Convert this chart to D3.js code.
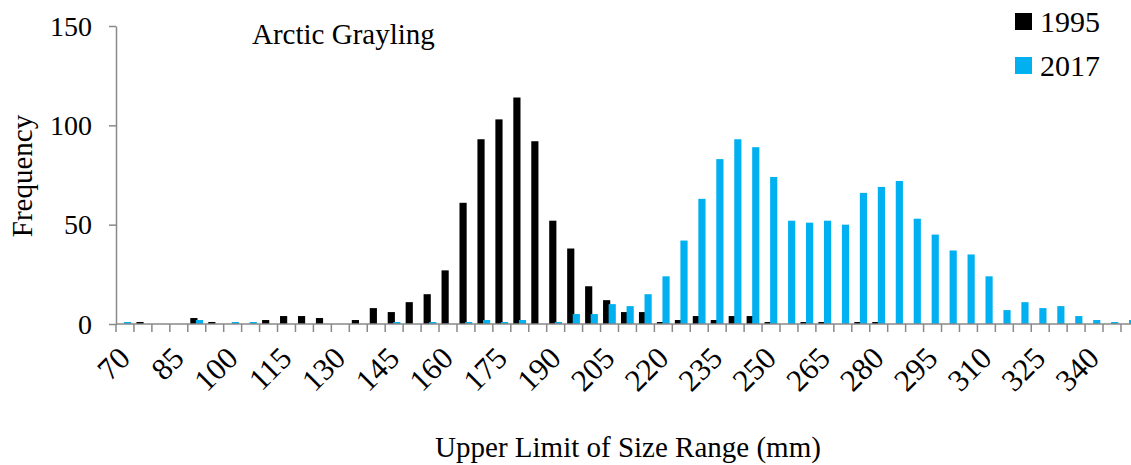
<!DOCTYPE html>
<html>
<head>
<meta charset="utf-8">
<script src="https://cdn.jsdelivr.net/npm/d3@7"></script>
<style>
  html, body { margin: 0; padding: 0; background: #fff; }
  svg { display: block; }
  text { font-family: "Liberation Serif", "Times New Roman", serif; fill: #000; }
</style>
</head>
<body>
<svg id="chart" width="1131" height="465"></svg>
<script>
// ---- Data ----
const categories = [70,75,80,85,90,95,100,105,110,115,120,125,130,135,140,145,150,155,160,165,170,175,180,185,190,195,200,205,210,215,220,225,230,235,240,245,250,255,260,265,270,275,280,285,290,295,300,305,310,315,320,325,330,335,340,345,350];
const values1995 = [0,1,0,0,3,1,0,0,2,4,4,3,0,2,8,6,11,15,27,61,93,103,114,92,52,38,19,12,6,6,1,2,4,2,4,4,1,0,1,1,0,1,1,0,0,0,0,0,0,0,0,0,0,0,0,0,0];
const values2017 = [1,0,0,0,2,0,1,1,0,0,0,0,0,0,0,1,0,1,0,1,2,1,2,0,1,5,5,10,9,15,24,42,63,83,93,89,74,52,51,52,50,66,69,72,53,45,37,35,24,7,11,8,9,4,2,1,2];
const tickLabels = [70,85,100,115,130,145,160,175,190,205,220,235,250,265,280,295,310,325,340];
const yTicks = [0,50,100,150];
const seriesNames = ["1995","2017"];
const colors = ["#000000","#00B0F0"];

// ---- Layout ----
const svg = d3.select("#chart");
const plotLeft = 116, plotTop = 26, plotBottom = 324;
const step = 17.946;
const x = d3.scaleBand().domain(categories).range([plotLeft, plotLeft + step * categories.length]).padding(0);
const y = d3.scaleLinear().domain([0,150]).range([plotBottom, plotTop]);
const bw = x.bandwidth();
const axisColor = "#898989";

// Bars
const g = svg.append("g");
g.selectAll("rect.b1995").data(categories).join("rect")
  .attr("class", "b1995")
  .attr("x", d => x(d) + 0.14 * bw)
  .attr("width", 0.40 * bw)
  .attr("y", (d,i) => y(values1995[i]))
  .attr("height", (d,i) => plotBottom - y(values1995[i]))
  .attr("fill", colors[0]);
g.selectAll("rect.b2017").data(categories).join("rect")
  .attr("class", "b2017")
  .attr("x", d => x(d) + 0.45 * bw)
  .attr("width", 0.40 * bw)
  .attr("y", (d,i) => y(values2017[i]))
  .attr("height", (d,i) => plotBottom - y(values2017[i]))
  .attr("fill", colors[1]);

// Y axis
const yAxis = d3.axisLeft(y).tickValues(yTicks).tickSize(7).tickSizeOuter(0).tickPadding(17);
const yg = svg.append("g").attr("transform", `translate(${plotLeft},0)`).call(yAxis);
yg.select(".domain").attr("stroke", axisColor).attr("stroke-width", 1.5);
yg.selectAll(".tick line").attr("stroke", axisColor).attr("stroke-width", 1.5);
yg.selectAll(".tick text").attr("font-size", 28).attr("font-family", "Liberation Serif").attr("fill", "#000").attr("dy", "0.33em");

// X axis line and ticks
const xg = svg.append("g");
xg.append("line").attr("x1", plotLeft).attr("x2", 1131).attr("y1", plotBottom).attr("y2", plotBottom)
  .attr("stroke", axisColor).attr("stroke-width", 1.5);
const boundaries = categories.map(c => x(c)).concat([x(categories[categories.length-1]) + bw]);
xg.selectAll("line.tk").data(boundaries).join("line")
  .attr("class", "tk")
  .attr("x1", d => d).attr("x2", d => d).attr("y1", plotBottom).attr("y2", plotBottom + 8)
  .attr("stroke", axisColor).attr("stroke-width", 1.5);
xg.selectAll("text.tl").data(tickLabels).join("text")
  .attr("class", "tl")
  .attr("text-anchor", "end")
  .attr("font-size", 31)
  .attr("transform", d => `translate(${x(d) + bw/2 + 7},360) rotate(-45)`)
  .text(d => d);

// Titles
svg.append("text").attr("x", 628).attr("y", 457).attr("text-anchor", "middle")
  .attr("font-size", 29).text("Upper Limit of Size Range (mm)");
svg.append("text").attr("transform", "translate(32,176) rotate(-90)").attr("text-anchor", "middle")
  .attr("font-size", 29).text("Frequency");
svg.append("text").attr("x", 252).attr("y", 44).attr("font-size", 29).text("Arctic Grayling");

// Legend
const lg = svg.append("g");
seriesNames.forEach((name, i) => {
  lg.append("rect").attr("x", 1015).attr("y", 13 + i * 44).attr("width", 17).attr("height", 17).attr("fill", colors[i]);
  lg.append("text").attr("x", 1040).attr("y", 32 + i * 44).attr("font-size", 30).text(name);
});
</script>
</body>
</html>
